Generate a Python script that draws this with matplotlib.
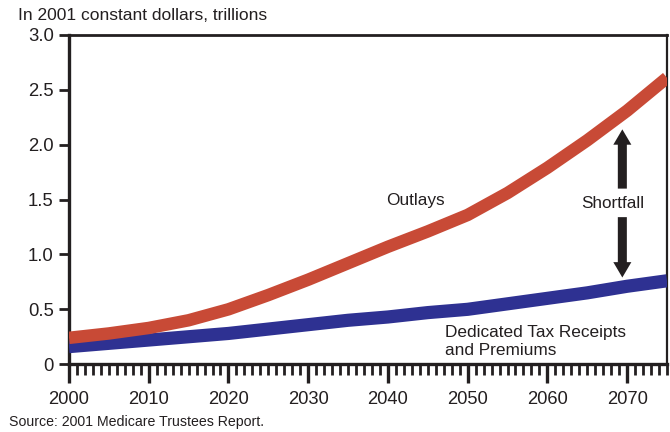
import numpy as np
import matplotlib
matplotlib.use("Agg")
import matplotlib.pyplot as plt

plt.rcParams['font.family'] = ['Liberation Sans', 'DejaVu Sans']

# values (trillions, 2001 dollars)
years = [2000, 2005, 2010, 2015, 2020, 2025, 2030, 2035, 2040, 2045, 2050, 2055, 2060, 2065, 2070, 2075]
outlays = [0.24, 0.28, 0.33, 0.40, 0.50, 0.63, 0.77, 0.92, 1.07, 1.21, 1.36, 1.56, 1.79, 2.04, 2.31, 2.61]
receipts = [0.16, 0.19, 0.22, 0.25, 0.28, 0.32, 0.36, 0.40, 0.43, 0.47, 0.50, 0.55, 0.60, 0.65, 0.71, 0.76]

yticks = [0, 0.5, 1.0, 1.5, 2.0, 2.5, 3.0]
ytick_labels = ['0', '0.5', '1.0', '1.5', '2.0', '2.5', '3.0']
xticks = [2000, 2010, 2020, 2030, 2040, 2050, 2060, 2070]

red = '#c84a36'
blue = '#2e3192'
ink = '#231f20'

fig = plt.figure(figsize=(6.7, 4.32), dpi=100)
ax = fig.add_axes([0.103, 0.157, 0.8925, 0.762])

ax.plot(years, receipts, color=blue, lw=9.5, solid_capstyle='butt', zorder=3)
ax.plot(years, outlays, color=red, lw=9.0, solid_capstyle='butt', zorder=4)

ax.set_xlim(2000, 2075)
ax.set_ylim(0, 3.0)
ax.set_yticks(yticks)
ax.set_yticklabels(ytick_labels)
ax.set_xticks(xticks)
ax.set_xticks(np.arange(2000, 2076, 1), minor=True)

ax.tick_params(axis='y', direction='out', length=7, width=2, color=ink,
               labelsize=13.3, labelcolor=ink, pad=4)
ax.tick_params(axis='x', which='major', direction='out', length=14, width=2.4,
               color=ink, labelsize=13.2, labelcolor=ink, pad=5)
ax.tick_params(axis='x', which='minor', direction='out', length=8, width=2.0, color=ink)

for side, w in [('left', 2.4), ('bottom', 2.4), ('top', 2.0), ('right', 1.6)]:
    ax.spines[side].set_linewidth(w)
    ax.spines[side].set_color(ink)

# labels
ax.text(2043.4, 1.49, 'Outlays', fontsize=12.4, color=ink, ha='center', va='center')
ax.text(2047.2, 0.205, 'Dedicated Tax Receipts\nand Premiums', fontsize=12.4, color=ink,
        ha='left', va='center', linespacing=1.25)
ax.text(2068.2, 1.46, 'Shortfall', fontsize=12.3, color=ink, ha='center', va='center')

arrow_style = 'simple,head_length=0.85,head_width=1.0,tail_width=0.5'
ax.annotate('', xy=(2069.4, 2.14), xytext=(2069.4, 1.60),
            arrowprops=dict(arrowstyle=arrow_style, mutation_scale=13, color=ink,
                            lw=0, shrinkA=0, shrinkB=0))
ax.annotate('', xy=(2069.4, 0.79), xytext=(2069.4, 1.34),
            arrowprops=dict(arrowstyle=arrow_style, mutation_scale=13, color=ink,
                            lw=0, shrinkA=0, shrinkB=0))

fig.text(0.027, 0.963, 'In 2001 constant dollars, trillions', fontsize=12.5, color=ink,
         ha='left', va='center')
fig.text(0.013, 0.022, 'Source: 2001 Medicare Trustees Report.', fontsize=10.2, color=ink,
         ha='left', va='center')

fig.savefig('out.png', dpi=100)
